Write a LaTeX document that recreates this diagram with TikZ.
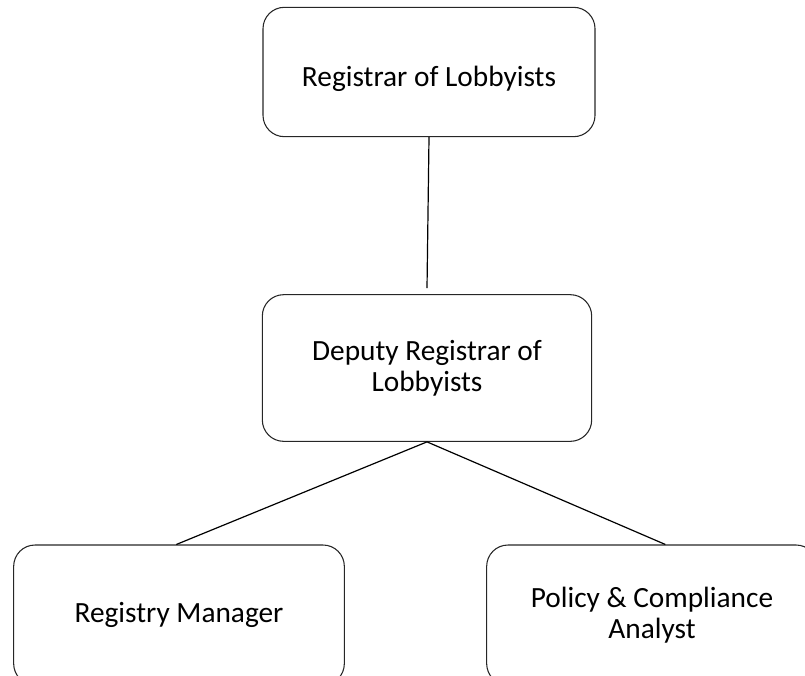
\documentclass[tikz,border=0pt]{standalone}
\usepackage{fontspec}
\setmainfont{Carlito}
\usepackage{tikz}
\usetikzlibrary{positioning}

\begin{document}
\begin{tikzpicture}[
  x=0.75pt, y=-0.75pt,
  box/.style={draw=black!85, rounded corners=16pt, align=center, font=\fontsize{22}{23}\selectfont, inner sep=3pt, line width=0.8pt},
  topbox/.style={box, minimum width=249pt, minimum height=97pt},
  midbox/.style={box, minimum width=247pt, minimum height=110pt},
  lowbox/.style={box, minimum width=248pt, minimum height=105pt},
  link/.style={draw=black, line width=0.9pt}
]
\useasboundingbox (0,0) rectangle (805,675);
\clip (0,0) rectangle (805,675);
\node[topbox] (reg) at (429,72) {\raisebox{-5pt}[\height][\depth]{Registrar of Lobbyists}};
\node[midbox] (dep) at (427,368) {Deputy Registrar of\\Lobbyists};
\node[lowbox] (mgr) at (179,615) {Registry Manager};
\node[lowbox] (pca) at (652,615) {Policy \& Compliance\\Analyst};
\draw[link] (reg.south) -- ([yshift=4.5pt]dep.north);
\draw[link] (dep.south) -- ([xshift=-2pt]mgr.north);
\draw[link] (dep.south) -- ([xshift=10pt]pca.north);
\end{tikzpicture}
\end{document}
